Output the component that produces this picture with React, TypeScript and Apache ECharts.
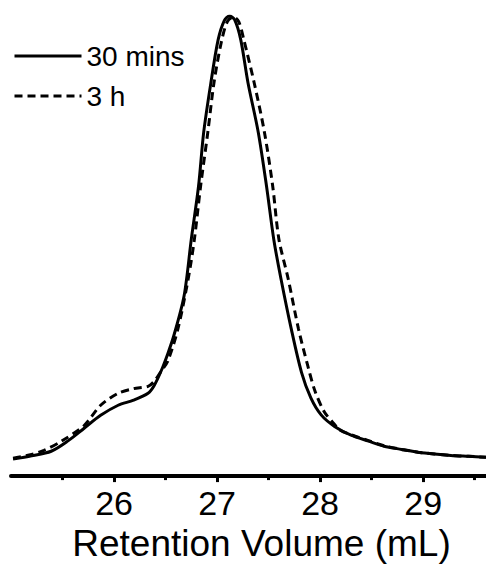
import React, { useEffect, useRef } from "react";
import * as echarts from "echarts";

const seriesNames = ["30 mins", "3 h"];

const solidX = [25.02, 25.2, 25.39, 25.55, 25.71, 25.87, 26.04, 26.19, 26.33, 26.39, 26.46, 26.52, 26.58, 26.68, 26.75, 26.82, 26.87, 26.94, 27.01, 27.07, 27.12, 27.17, 27.23, 27.3, 27.4, 27.48, 27.55, 27.62, 27.72, 27.82, 27.91, 28.01, 28.14, 28.3, 28.47, 28.62, 28.79, 28.95, 29.11, 29.27, 29.44, 29.61];
const solidY = [0.037, 0.044, 0.054, 0.076, 0.104, 0.132, 0.154, 0.165, 0.18, 0.197, 0.23, 0.265, 0.305, 0.392, 0.515, 0.63, 0.747, 0.855, 0.948, 0.99, 1.0, 0.992, 0.948, 0.855, 0.747, 0.63, 0.515, 0.429, 0.32, 0.225, 0.17, 0.133, 0.108, 0.089, 0.076, 0.065, 0.058, 0.052, 0.048, 0.045, 0.043, 0.041];

const dashX = [25.02, 25.2, 25.32, 25.49, 25.71, 25.87, 26.04, 26.19, 26.33, 26.39, 26.46, 26.52, 26.62, 26.72, 26.78, 26.84, 26.91, 26.97, 27.04, 27.1, 27.16, 27.21, 27.26, 27.36, 27.46, 27.54, 27.6, 27.69, 27.79, 27.88, 27.95, 28.04, 28.13, 28.2, 28.3, 28.47, 28.62, 28.79, 28.95, 29.11, 29.27, 29.44, 29.61];
const dashY = [0.039, 0.047, 0.056, 0.076, 0.11, 0.154, 0.18, 0.19, 0.195, 0.206, 0.229, 0.249, 0.32, 0.429, 0.515, 0.63, 0.747, 0.855, 0.942, 0.988, 0.998, 0.988, 0.948, 0.855, 0.747, 0.63, 0.515, 0.429, 0.32, 0.24, 0.185, 0.14, 0.115, 0.099, 0.09, 0.077, 0.066, 0.058, 0.052, 0.048, 0.045, 0.043, 0.041];

const xMin = 25;
const xMax = 29.61;
const xTickInterval = 1;
const xTickLabels = [26, 27, 28, 29];
const axisTitle = "Retention Volume (mL)";

const FONT = "Arial, 'Liberation Sans', sans-serif";

export default function App() {
  const ref = useRef<HTMLDivElement>(null);
  useEffect(() => {
    if (!ref.current) return;
    const chart = echarts.init(ref.current, undefined, { renderer: "svg" });
    const zip = (xs: number[], ys: number[]) => xs.map((x, i) => [x, ys[i]]);
    chart.setOption({
      animation: false,
      backgroundColor: "#ffffff",
      grid: { left: 11, right: 0, top: 16, bottom: 89, containLabel: false },
      legend: {
        left: 13,
        top: 42,
        padding: 0,
        orient: "vertical",
        itemWidth: 67,
        itemHeight: 27,
        itemGap: 12,
        itemStyle: { color: "transparent", borderWidth: 0, opacity: 0 },
        lineStyle: { width: 3 },
        textStyle: { fontFamily: FONT, fontSize: 28, color: "#000" },
        data: seriesNames,
      },
      xAxis: {
        type: "value",
        min: xMin,
        max: xMax,
        interval: xTickInterval,
        splitLine: { show: false },
        axisLine: { show: true, onZero: false, lineStyle: { color: "#000", width: 4 } },
        axisTick: { show: true, inside: false, length: 6, customValues: xTickLabels, lineStyle: { color: "#000", width: 3 } },
        minorTick: { show: true, splitNumber: 2, length: 4, lineStyle: { color: "#000", width: 3 } },
        axisLabel: {
          customValues: xTickLabels,
          margin: 10,
          color: "#000",
          fontFamily: FONT,
          fontSize: 34,
        },
        name: axisTitle,
        nameLocation: "middle",
        nameGap: 47,
        nameTextStyle: { fontFamily: FONT, fontSize: 37, color: "#000", padding: [0, 0, 0, 26] },
      },
      yAxis: {
        type: "value",
        min: 0,
        max: 1,
        show: false,
      },
      series: [
        {
          name: seriesNames[0],
          type: "line",
          data: zip(solidX, solidY),
          symbol: "none",
          showSymbol: false,
          smooth: 0.3,
          lineStyle: { color: "#000", width: 3, type: "solid" },
          itemStyle: { color: "#000" },
          z: 3,
        },
        {
          name: seriesNames[1],
          type: "line",
          data: zip(dashX, dashY),
          symbol: "none",
          showSymbol: false,
          smooth: 0.3,
          lineStyle: { color: "#000", width: 3, type: [8, 5] },
          itemStyle: { color: "#000" },
          z: 2,
        },
      ],
    });
    return () => chart.dispose();
  }, []);
  return <div ref={ref} style={{ width: 486, height: 567, position: "absolute", left: 0, top: 0 }} />;
}
